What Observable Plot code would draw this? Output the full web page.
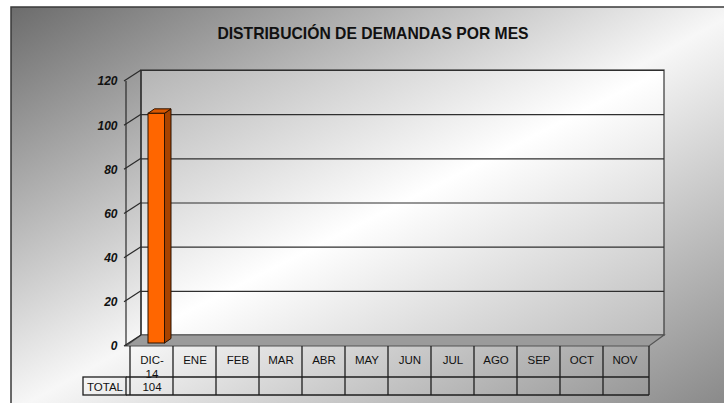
<!DOCTYPE html>
<html><head><meta charset="utf-8">
<script src="https://cdn.jsdelivr.net/npm/d3@7"></script>
<script src="https://cdn.jsdelivr.net/npm/@observablehq/plot@0.6"></script>
<style>html,body{margin:0;padding:0;background:#fff;overflow:hidden}svg{display:block}</style>
</head><body><div id="chart"></div>
<script>
// ---- data ----
const title = "DISTRIBUCIÓN DE DEMANDAS POR MES";
const months = ["DIC-\n14","ENE","FEB","MAR","ABR","MAY","JUN","JUL","AGO","SEP","OCT","NOV"];
const totals = [104, null, null, null, null, null, null, null, null, null, null, null];
const yTicks = [0, 20, 40, 60, 80, 100, 120];
const rowLabel = "TOTAL";

const data = months.map((m, i) => ({month: m, value: totals[i]}));
const bars = data.filter(d => d.value != null);

// ---- styling constants ----
const W = 724, H = 403;
const DX = 15, DY = -11;           // wall depth
const BAR_DX = 4.5, BAR_DY = -3;   // bar front offset
const BAR_IL = 13.5, BAR_IR = 13;  // bar insets in band
const BD_X = 6.5, BD_Y = -4.5;     // bar depth
const ROW1 = 31, ROW2 = 49;        // table row bottoms below frame bottom
const LABEL_W = 43;                // TOTAL cell width
const FONT = "Arial, 'Liberation Sans', sans-serif";

function bw(sx) { return typeof sx.bandwidth === "function" ? sx.bandwidth() : sx.bandwidth; }

function background(index, scales, values, dim) {
  const g = d3.create("svg:g");
  const defs = g.append("defs");
  const mk = (id, stops) => {
    const lg = defs.append("linearGradient").attr("id", id)
      .attr("x1", 0).attr("y1", 0).attr("x2", 1).attr("y2", 1);
    stops.forEach(([o, c]) => lg.append("stop").attr("offset", o).attr("stop-color", c));
  };
  mk("bgGrad", [[0, "#6c6c6c"], [0.5, "#f7f7f7"], [1, "#848484"]]);
  mk("wallGrad", [[0, "#b4b4b4"], [0.5, "#ffffff"], [1, "#bdbdbd"]]);
  g.append("rect").attr("x", 11).attr("y", 7).attr("width", 735).attr("height", 405)
    .attr("fill", "url(#bgGrad)").attr("stroke", "#3a3a3a").attr("stroke-width", 1.5);
  return g.node();
}

function walls(index, scales, values, dim) {
  const sx = scales.x, sy = scales.y;
  const [x0, x1] = sx.range();
  const yTop = sy(120), y0 = sy(0);
  const g = d3.create("svg:g");
  // back wall
  g.append("rect").attr("x", x0 + DX).attr("y", yTop + DY)
    .attr("width", x1 - x0).attr("height", y0 - yTop)
    .attr("fill", "url(#wallGrad)").attr("stroke", "#444").attr("stroke-width", 1.3);
  // floor
  g.append("polygon")
    .attr("points", [[x0, y0], [x1, y0], [x1 + DX, y0 + DY], [x0 + DX, y0 + DY]].map(p => p.join(",")).join(" "))
    .attr("fill", "#9b9b9b").attr("stroke", "#555").attr("stroke-width", 1.2);
  return g.node();
}

function leftWall(index, scales, values, dim) {
  const sx = scales.x, sy = scales.y;
  const [x0] = sx.range();
  const g = d3.create("svg:g").attr("stroke", "#2a2a2a").attr("stroke-width", 1.2).attr("fill", "none");
  yTicks.forEach(v => {
    g.append("line").attr("x1", x0 - 2).attr("y1", sy(v)).attr("x2", x0 + DX).attr("y2", sy(v) + DY);
  });
  g.append("line").attr("x1", x0).attr("y1", sy(120)).attr("x2", x0).attr("y2", sy(0));
  g.append("line").attr("x1", x0 + DX).attr("y1", sy(120) + DY).attr("x2", x0 + DX).attr("y2", sy(0) + DY);
  return g.node();
}

function barFaces(index, scales, values, dim) {
  const sx = scales.x, sy = scales.y, b = bw(sx);
  const g = d3.create("svg:g").attr("stroke", "#2b1200").attr("stroke-width", 1).attr("stroke-linejoin", "round");
  bars.forEach(d => {
    const xl = sx(d.month) + BAR_IL + BAR_DX;
    const xr = sx(d.month) + b - BAR_IR + BAR_DX;
    const yt = sy(d.value) + BAR_DY, yb = sy(0) + BAR_DY;
    g.append("polygon").attr("fill", "#a84300")
      .attr("points", [[xr, yb], [xr + BD_X, yb + BD_Y], [xr + BD_X, yt + BD_Y], [xr, yt]].map(p => p.join(",")).join(" "));
    g.append("polygon").attr("fill", "#d95700")
      .attr("points", [[xl, yt], [xr, yt], [xr + BD_X, yt + BD_Y], [xl + BD_X, yt + BD_Y]].map(p => p.join(",")).join(" "));
  });
  return g.node();
}

function table(index, scales, values, dim) {
  const sx = scales.x, b = bw(sx);
  const [x0, x1] = sx.range();
  const yT = dim.height - dim.marginBottom;
  const g = d3.create("svg:g").attr("stroke", "#1e1e1e").attr("stroke-width", 1.3).attr("fill", "none");
  [ROW1, ROW2].forEach(r => g.append("line").attr("x1", x0).attr("x2", x1).attr("y1", yT + r).attr("y2", yT + r));
  months.forEach(m => {
    g.append("line").attr("x1", sx(m)).attr("x2", sx(m)).attr("y1", yT).attr("y2", yT + ROW2);
  });
  g.append("line").attr("x1", x1).attr("x2", x1).attr("y1", yT).attr("y2", yT + ROW2);
  g.append("rect").attr("x", x0 - LABEL_W).attr("y", yT + ROW1).attr("width", LABEL_W).attr("height", ROW2 - ROW1);
  return g.node();
}

const chart = Plot.plot({
  width: W, height: H,
  marginLeft: 126, marginRight: 75, marginTop: 81, marginBottom: 57,
  x: {type: "band", domain: months, padding: 0, axis: null},
  y: {domain: [0, 120], axis: null},
  style: {fontFamily: FONT, background: "#fff", color: "#000", overflow: "hidden"},
  marks: [
    background,
    walls,
    Plot.ruleY(yTicks.filter(v => v > 0), {dx: DX, dy: DY, stroke: "#2f2f2f", strokeWidth: 1.2}),
    leftWall,
    Plot.text(yTicks, {y: d => d, frameAnchor: "left", dx: -9, textAnchor: "end",
      fontSize: 12, fontWeight: "bold", fontStyle: "italic", fill: "#111"}),
    barFaces,
    Plot.rectY(bars, {x: "month", y: "value", fill: "#ff6600", stroke: "#2b1200", strokeWidth: 1,
      insetLeft: BAR_IL, insetRight: BAR_IR, dx: BAR_DX, dy: BAR_DY}),
    table,
    Plot.text(months, {x: d => d, frameAnchor: "bottom", lineAnchor: "top", dy: 7.5,
      fontSize: 11.5, lineHeight: 1.2, fill: "#111"}),
    Plot.text(bars, {x: "month", text: d => String(d.value), frameAnchor: "bottom", lineAnchor: "bottom",
      dy: 44, fontSize: 11.5, fill: "#111"}),
    Plot.text([rowLabel], {frameAnchor: "bottom-left", dx: -21.5, dy: 44, textAnchor: "middle",
      lineAnchor: "bottom", fontSize: 11.5, fill: "#111"}),
    Plot.text([title], {frameAnchor: "top", dx: -15, dy: -42.7, lineAnchor: "bottom",
      fontSize: 15.7, fontWeight: "bold", fill: "#111"})
  ]
});
document.getElementById("chart").appendChild(chart);
</script>
</body></html>
